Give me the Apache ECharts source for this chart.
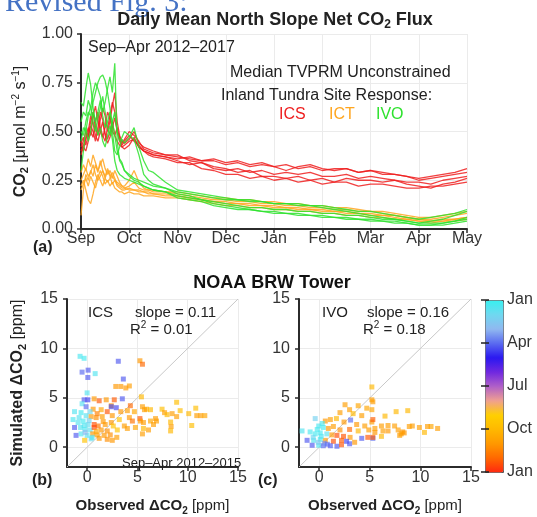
<!DOCTYPE html>
<html>
<head>
<meta charset="utf-8">
<script src="https://cdn.jsdelivr.net/npm/echarts@6/dist/echarts.min.js"></script>
<style>
  html, body { margin: 0; padding: 0; background: #fff; }
  #chart { width: 537px; height: 517px; }
</style>
</head>
<body>
<div id="chart"></div>
<script>
// month position (0 = 1 Sep, 8 = 1 May)
const monthX = [0, 0.05, 0.1, 0.15, 0.2, 0.25, 0.3, 0.35, 0.4, 0.45, 0.5, 0.55, 0.6, 0.65, 0.7, 0.75, 0.8, 0.85, 0.9,
  1.0, 1.1, 1.2, 1.3, 1.4, 1.5,
  1.75, 2, 2.25, 2.5, 2.75, 3, 3.25, 3.5, 3.75, 4, 4.25, 4.5, 4.75, 5, 5.25, 5.5, 5.75, 6, 6.25, 6.5, 6.75, 7, 7.25, 7.5, 7.75, 8];
const monthLabels = ['Sep', 'Oct', 'Nov', 'Dec', 'Jan', 'Feb', 'Mar', 'Apr', 'May'];

const icsLines = [
  [0.42,0.45,0.50,0.47,0.55,0.60,0.52,0.48,0.56,0.62,0.58,0.50,0.55,0.63,0.70,0.55,0.48,0.45,0.44, 0.46,0.50,0.44,0.42,0.41,0.40,
   0.38,0.37,0.36,0.35,0.35,0.33,0.34,0.32,0.33,0.32,0.30,0.32,0.33,0.31,0.30,0.31,0.29,0.30,0.28,0.28,0.27,0.26,0.27,0.28,0.29,0.31],
  [0.45,0.40,0.47,0.52,0.48,0.58,0.63,0.55,0.50,0.47,0.52,0.60,0.57,0.50,0.48,0.52,0.46,0.43,0.45, 0.48,0.45,0.43,0.40,0.39,0.38,
   0.37,0.36,0.37,0.35,0.36,0.34,0.35,0.33,0.34,0.32,0.33,0.31,0.32,0.30,0.31,0.31,0.29,0.30,0.29,0.28,0.27,0.25,0.26,0.27,0.28,0.29],
  [0.40,0.43,0.46,0.50,0.58,0.54,0.48,0.45,0.50,0.55,0.48,0.44,0.47,0.52,0.57,0.50,0.45,0.42,0.41, 0.43,0.47,0.42,0.40,0.39,0.38,
   0.37,0.35,0.33,0.34,0.31,0.30,0.31,0.29,0.30,0.28,0.29,0.28,0.29,0.27,0.27,0.28,0.26,0.27,0.26,0.25,0.24,0.24,0.23,0.25,0.26,0.27],
  [0.38,0.42,0.40,0.45,0.50,0.47,0.55,0.60,0.52,0.48,0.45,0.52,0.58,0.65,0.60,0.50,0.47,0.44,0.46, 0.50,0.48,0.45,0.41,0.40,0.39,
   0.38,0.38,0.35,0.34,0.32,0.31,0.29,0.30,0.27,0.27,0.26,0.27,0.25,0.26,0.24,0.26,0.25,0.25,0.24,0.25,0.23,0.22,0.21,0.23,0.24,0.26],
  [0.44,0.47,0.43,0.48,0.53,0.50,0.45,0.52,0.60,0.56,0.49,0.46,0.50,0.55,0.48,0.45,0.43,0.42,0.43, 0.45,0.46,0.42,0.40,0.38,0.37,
   0.36,0.34,0.34,0.31,0.30,0.28,0.28,0.26,0.27,0.25,0.26,0.24,0.25,0.23,0.24,0.24,0.22,0.23,0.23,0.22,0.21,0.21,0.22,0.22,0.23,0.24]
];
const ictLines = [
  [0.07,0.20,0.28,0.25,0.30,0.27,0.33,0.29,0.35,0.30,0.27,0.31,0.28,0.26,0.30,0.27,0.24,0.22,0.21, 0.22,0.24,0.21,0.20,0.20,0.19,
   0.19,0.18,0.17,0.16,0.15,0.15,0.14,0.14,0.13,0.13,0.12,0.12,0.11,0.11,0.10,0.10,0.09,0.09,0.08,0.07,0.06,0.05,0.05,0.06,0.07,0.08],
  [0.22,0.25,0.20,0.15,0.13,0.18,0.24,0.28,0.25,0.22,0.26,0.30,0.27,0.23,0.25,0.22,0.21,0.20,0.20, 0.21,0.20,0.20,0.19,0.19,0.18,
   0.18,0.17,0.16,0.15,0.14,0.13,0.13,0.12,0.12,0.11,0.11,0.10,0.10,0.09,0.09,0.08,0.08,0.07,0.07,0.06,0.05,0.04,0.04,0.05,0.05,0.06],
  [0.29,0.33,0.30,0.36,0.32,0.38,0.34,0.30,0.33,0.36,0.31,0.28,0.30,0.27,0.25,0.24,0.23,0.22,0.22, 0.25,0.30,0.24,0.21,0.20,0.20,
   0.19,0.19,0.18,0.17,0.16,0.16,0.15,0.15,0.14,0.14,0.13,0.13,0.12,0.12,0.11,0.11,0.10,0.09,0.09,0.08,0.07,0.06,0.06,0.07,0.08,0.09],
  [0.25,0.28,0.31,0.27,0.29,0.33,0.28,0.25,0.27,0.30,0.26,0.24,0.26,0.29,0.26,0.23,0.22,0.21,0.21, 0.20,0.20,0.19,0.19,0.18,0.18,
   0.17,0.17,0.16,0.15,0.14,0.14,0.13,0.13,0.12,0.12,0.11,0.11,0.10,0.10,0.09,0.09,0.08,0.08,0.07,0.07,0.06,0.05,0.04,0.04,0.05,0.06],
  [0.20,0.23,0.26,0.22,0.27,0.24,0.21,0.26,0.30,0.27,0.23,0.25,0.22,0.24,0.21,0.20,0.19,0.19,0.18, 0.19,0.18,0.18,0.17,0.17,0.17,
   0.16,0.16,0.15,0.14,0.13,0.12,0.12,0.11,0.11,0.10,0.10,0.09,0.09,0.08,0.08,0.07,0.07,0.06,0.06,0.05,0.05,0.04,0.03,0.04,0.04,0.05]
];
const ivoLines = [
  [0.55,0.60,0.58,0.66,0.62,0.70,0.75,0.72,0.68,0.60,0.65,0.72,0.78,0.70,0.85,0.45,0.35,0.33,0.30, 0.28,0.26,0.25,0.24,0.23,0.22,
   0.21,0.19,0.18,0.17,0.16,0.15,0.15,0.14,0.14,0.13,0.13,0.12,0.12,0.11,0.10,0.09,0.08,0.07,0.06,0.05,0.04,0.03,0.04,0.05,0.07,0.09],
  [0.65,0.63,0.72,0.80,0.74,0.62,0.55,0.60,0.66,0.58,0.52,0.55,0.60,0.55,0.48,0.40,0.36,0.34,0.30, 0.27,0.25,0.24,0.22,0.21,0.20,
   0.19,0.17,0.16,0.15,0.13,0.12,0.11,0.10,0.09,0.09,0.08,0.08,0.07,0.07,0.06,0.06,0.05,0.05,0.04,0.04,0.03,0.02,0.02,0.03,0.04,0.05],
  [0.50,0.48,0.55,0.60,0.58,0.65,0.70,0.75,0.78,0.79,0.76,0.70,0.62,0.50,0.40,0.38,0.42,0.46,0.44, 0.47,0.52,0.42,0.35,0.30,0.29,
   0.24,0.20,0.19,0.18,0.17,0.16,0.15,0.15,0.14,0.13,0.13,0.13,0.12,0.12,0.11,0.10,0.09,0.09,0.08,0.07,0.06,0.05,0.06,0.07,0.08,0.10],
  [0.45,0.52,0.50,0.58,0.63,0.55,0.50,0.57,0.62,0.68,0.60,0.52,0.48,0.55,0.60,0.50,0.45,0.47,0.50, 0.48,0.46,0.38,0.28,0.25,0.23,
   0.21,0.18,0.17,0.15,0.14,0.13,0.12,0.11,0.11,0.10,0.10,0.09,0.09,0.08,0.08,0.07,0.07,0.06,0.05,0.05,0.04,0.03,0.03,0.03,0.04,0.06],
  [0.30,0.40,0.52,0.45,0.50,0.60,0.55,0.48,0.52,0.45,0.42,0.48,0.53,0.46,0.35,0.30,0.28,0.27,0.26, 0.25,0.24,0.23,0.22,0.21,0.20,
   0.19,0.16,0.15,0.14,0.12,0.11,0.10,0.10,0.09,0.08,0.08,0.07,0.07,0.06,0.06,0.05,0.05,0.04,0.04,0.03,0.03,0.02,0.02,0.02,0.03,0.04]
];

// scatter: [observed, simulated, month (0 = Jan at top of bar, 12 = Jan at bottom)]
const icsScatter = [
  [-0.3,9.0,0.3],[-0.7,9.2,0.4],[-0.5,7.6,3.0],[0.1,7.8,3.2],[3.1,8.7,3.2],[5.25,8.75,10.0],[5.5,8.4,11.0],[0.8,7.45,0.5],
  [0.07,7.06,3.2],[3.6,6.9,3.2],[2.85,6.15,10.0],[3.35,6.15,10.0],[3.85,6.0,10.0],[4.2,6.2,9.8],[0,5.5,0.5],[-0.3,4.8,3.2],
  [0.07,4.8,3.5],[0.7,4.9,10.0],[1.2,4.7,11.3],[1.9,4.8,10.0],[2.4,4.2,10.0],[2.7,4.8,11.2],[3.5,4.9,3.2],[5.4,5.1,9.0],
  [4.3,4.2,11.0],[5.5,4.1,9.8],[-0.5,4.4,0.6],[-0.1,4.1,3.0],[2.4,4.1,3.4],[2.9,4.0,3.4],[0.6,3.85,10.0],[1.4,3.8,9.6],
  [2.0,3.6,11.3],[3.35,3.6,10.0],[4.0,3.7,9.8],[4.7,3.6,9.6],[5.9,3.85,9.4],[-1.25,3.6,0.5],[-0.6,3.5,0.3],[-0.1,3.2,0.6],
  [0.4,3.1,10.0],[0.9,3.0,10.2],[1.5,3.1,9.8],[2.5,3.2,10.0],[3.2,2.8,8.6],[4.2,3.0,10.0],[4.5,2.65,10.8],[5.25,2.9,11.3],
  [5.6,2.5,9.8],[-1.4,2.8,0.4],[-0.9,2.5,0.6],[-0.4,2.65,0.3],[0.1,2.3,0.8],[0.7,2.3,11.4],[1.1,2.15,10.8],[1.8,2.3,10.0],
  [2.4,2.5,10.0],[2.6,2.15,8.6],[3.7,2.15,9.8],[-1.25,2.0,3.2],[-0.65,2.0,0.5],[-0.2,1.8,0.4],[0.3,1.75,0.7],[0.7,2.0,11.5],
  [1.4,1.75,10.0],[2.0,1.65,10.2],[3.0,1.75,8.6],[4.0,1.9,9.8],[4.8,2.0,9.6],[-0.6,1.35,0.5],[0,1.2,0.6],[0.55,1.35,10.0],
  [1.0,1.25,9.8],[1.7,1.2,10.0],[2.3,1.25,10.2],[-1.1,1.2,3.2],[-0.25,0.7,8.6],[0.4,0.85,0.8],[1.2,0.9,10.0],[2.0,0.8,10.2],
  [2.5,0.7,10.0],[2.95,1.0,9.8],[-0.3,2.2,0.5],[0.2,2.7,1.2],[-0.8,3.0,0.6],[0.3,3.6,1.0],[-0.2,1.5,2.0],[0.5,1.0,0.5],
  [1.0,3.4,10.5],[1.6,2.6,10.0],[0.9,1.6,9.6],
  [8.9,4.55,8.8],[10.8,3.95,8.8],[5.7,3.8,9.8],[6.3,3.8,9.0],[7.45,3.85,8.8],[7.7,3.5,9.8],[7.95,3.3,9.0],[8.45,3.4,9.8],
  [9.25,3.7,8.8],[10.1,3.4,9.0],[10.9,3.2,9.8],[11.3,3.2,9.8],[11.7,3.2,9.6],[8.9,3.1,9.8],[6.8,2.9,9.8],[6.9,2.65,9.8],
  [6.3,2.65,9.6],[8.3,2.55,9.0],[10.4,2.2,8.8],[6.6,2.3,9.8],[5.6,1.9,9.0],[6.1,1.75,9.8],[8.35,2.1,9.8],[8.3,1.65,9.0],
  [5.5,1.35,9.8],[5.3,2.65,10.0]
];
const ivoScatter = [
  [5.2,6.1,9.0],[5.3,4.6,9.8],[2.55,4.3,9.8],[3.85,4.2,9.6],[3.0,3.8,9.8],[4.7,3.95,9.6],[2.05,3.5,9.8],[3.35,3.4,9.0],
  [4.2,3.2,9.8],[-0.4,2.9,1.2],[0.6,2.65,10.0],[1.1,2.8,9.8],[1.7,2.9,9.0],[3.1,2.75,3.0],[2.45,2.55,10.0],[5.2,2.55,9.8],
  [3.7,2.3,10.0],[4.5,2.15,9.8],[-0.05,2.15,0.4],[0.4,2.0,0.3],[0.9,1.9,10.0],[1.4,2.1,9.8],[2.05,1.75,10.2],[3.0,1.8,11.0],
  [3.85,1.65,9.0],[4.9,1.75,9.8],[5.5,1.5,10.0],[-1.7,1.65,0.5],[-0.9,1.55,0.4],[-0.4,1.35,0.3],[0.1,1.45,0.3],[0.75,1.35,0.6],
  [1.25,1.25,10.0],[1.75,1.2,11.4],[2.4,1.1,11.3],[3.05,1.0,10.0],[4.2,0.9,3.2],[4.8,1.0,11.3],[5.3,0.9,3.0],[-1.2,0.7,3.2],
  [-0.55,0.7,0.5],[0.1,0.8,0.3],[0.6,0.7,10.0],[1.4,0.6,11.4],[2.2,0.7,11.2],[2.7,0.6,3.4],[3.5,0.5,10.0],[-0.7,0.2,3.2],
  [-0.05,0.2,0.4],[0.4,0.15,3.0],[1.1,0.15,3.2],[1.75,0.1,3.2],[2.2,0.25,11.3],[3.0,0.35,3.2],
  [-0.2,1.8,0.3],[0.2,1.1,0.5],[-0.6,1.0,1.0],[0.3,2.4,0.4],[-0.1,0.5,1.5],[0.5,0.4,2.5],[0.8,0.3,3.0],
  [5.2,4.8,9.8],[7.6,3.6,9.0],[8.75,3.7,9.0],[6.5,3.15,9.0],[5.3,2.8,11.2],[5.2,3.8,9.6],[6.15,2.15,9.8],[6.8,2.2,9.8],
  [7.45,2.15,9.8],[8.9,2.1,9.8],[9.2,2.15,9.8],[9.9,2.0,9.8],[10.7,2.1,9.8],[11.05,2.1,9.6],[11.7,1.9,9.8],[5.5,1.9,9.8],
  [6.3,1.65,9.8],[6.8,1.65,10.0],[7.8,1.75,9.8],[8.25,1.55,10.0],[8.1,1.35,9.8],[8.4,1.45,10.0],[10.4,1.5,9.0],[6.15,1.1,9.0],
  [5.3,1.0,11.2],[7.95,1.2,9.8]
];
const oneToOne = [-2, 15];
const colorbarLabels = ['Jan', 'Apr', 'Jul', 'Oct', 'Jan'];
const monthColors = ['#38f0f0', '#70d8f0', '#90b8f0', '#5a6af0', '#2a18f0', '#7028e0', '#b060c8',
  '#f0a090', '#ffd000', '#ffb800', '#ff9800', '#ff6800', '#ff2810'];

const FONT = '"Liberation Sans", Arial, Helvetica, sans-serif';
const AXIS_DARK = '#2b2b2b';
const GRID_LINE = '#ebebeb';

const chart = echarts.init(document.getElementById('chart'));

function txt(x, y, text, extra) {
  return {
    type: 'text', x: x, y: y, z: 100, silent: true,
    style: Object.assign({
      text: text, fontSize: 16, fontFamily: FONT, fill: '#222',
      align: 'left', verticalAlign: 'middle', textAlign: 'left', textVerticalAlign: 'middle'
    }, extra || {})
  };
}

function richFor(size) {
  return {
    n: { fontSize: size, lineHeight: 20, fontFamily: FONT, color: '#222' },
    b: { fontWeight: 'bold', fontSize: size, lineHeight: 20, fontFamily: FONT, color: '#222' },
    bsub: { fontWeight: 'bold', fontSize: Math.round(size * 0.68), lineHeight: 10, verticalAlign: 'bottom', fontFamily: FONT, color: '#222' },
    sup: { fontSize: Math.round(size * 0.62), lineHeight: 9, verticalAlign: 'top', fontFamily: FONT, color: '#222' }
  };
}

function lineSeries(lines, color) {
  return lines.map((vals) => ({
    type: 'line', xAxisIndex: 0, yAxisIndex: 0, symbol: 'none', silent: true,
    data: monthX.map((x, i) => [x, vals[i]]),
    lineStyle: { color: color, width: 1.3, opacity: 0.85 }
  }));
}

function axisLineStyle() {
  return { show: true, onZero: false, lineStyle: { color: AXIS_DARK, width: 2 } };
}

function scatterAxes(idx, showYName) {
  const x = {
    type: 'value', gridIndex: idx, min: -2, max: 15, splitNumber: 4,
    axisLine: axisLineStyle(),
    axisTick: { show: true, length: 4, lineStyle: { color: AXIS_DARK, width: 1.5 } },
    axisLabel: { showMinLabel: false, margin: 3, fontSize: 16, color: '#333', fontFamily: FONT },
    splitLine: { show: true, lineStyle: { color: GRID_LINE } },
    name: '{b|Observed ΔCO}{bsub|2}{n| [ppm]}', nameLocation: 'middle', nameGap: 29,
    nameTextStyle: { rich: richFor(15) }
  };
  const y = {
    type: 'value', gridIndex: idx, min: -2, max: 15, splitNumber: 4,
    axisLine: axisLineStyle(),
    axisTick: { show: true, length: 4, lineStyle: { color: AXIS_DARK, width: 1.5 } },
    axisLabel: { showMinLabel: false, margin: 9, fontSize: 16, color: '#333', fontFamily: FONT },
    splitLine: { show: true, lineStyle: { color: GRID_LINE } }
  };
  if (showYName) {
    y.name = '{b|Simulated ΔCO}{bsub|2}{n| [ppm]}';
    y.nameLocation = 'middle';
    y.nameGap = 39;
    y.nameTextStyle = { rich: richFor(16) };
  }
  return [x, y];
}

const bAxes = scatterAxes(1, true);
const cAxes = scatterAxes(2, false);

function scatterSeries(data, idx) {
  return [
    {
      type: 'line', xAxisIndex: idx, yAxisIndex: idx, symbol: 'none', silent: true,
      data: [[oneToOne[0], oneToOne[0]], [oneToOne[1], oneToOne[1]]],
      lineStyle: { color: '#c8c8c8', width: 1 }, z: 1
    },
    {
      type: 'scatter', xAxisIndex: idx, yAxisIndex: idx, symbol: 'rect', symbolSize: 5,
      data: data, itemStyle: { opacity: 0.66 }, z: 2
    }
  ];
}

const series = [].concat(
  lineSeries(icsLines, '#ee1f1f'),
  lineSeries(ictLines, '#ffa620'),
  lineSeries(ivoLines, '#2ee22e'),
  scatterSeries(icsScatter, 1),
  scatterSeries(ivoScatter, 2)
);
const scatterIdx = [series.length - 3, series.length - 1];
const smallRich = { n: { fontSize: 15, lineHeight: 20, fontFamily: FONT, color: '#222' }, sup: { fontSize: 10, lineHeight: 9, verticalAlign: 'top', fontFamily: FONT, color: '#222' } };

chart.setOption({
  animation: false,
  backgroundColor: '#fff',
  grid: [
    { left: 81, top: 34, width: 386, height: 195 },
    { left: 67, top: 299, width: 171, height: 173 },
    { left: 299, top: 299, width: 172, height: 173 },
    { left: 485, top: 300, width: 18, height: 172 }
  ],
  xAxis: [
    {
      type: 'value', gridIndex: 0, min: 0, max: 8, interval: 1,
      axisLine: axisLineStyle(),
      axisTick: { show: true, length: 4, lineStyle: { color: AXIS_DARK, width: 1.5 } },
      axisLabel: { margin: 2, fontSize: 16, color: '#333', fontFamily: FONT, formatter: (v) => monthLabels[v] },
      splitLine: { show: true, lineStyle: { color: GRID_LINE } }
    },
    bAxes[0], cAxes[0],
    { type: 'value', gridIndex: 3, show: false, min: 0, max: 1 }
  ],
  yAxis: [
    {
      type: 'value', gridIndex: 0, min: 0, max: 1, interval: 0.25,
      axisLine: axisLineStyle(),
      axisTick: { show: true, length: 4, lineStyle: { color: AXIS_DARK, width: 1.5 } },
      axisLabel: { margin: 8, fontSize: 16, color: '#333', fontFamily: FONT, formatter: (v) => v.toFixed(2) },
      splitLine: { show: true, lineStyle: { color: GRID_LINE } },
      name: '{b|CO}{bsub|2}{n| [μmol m}{sup|−2}{n| s}{sup|−1}{n|]}', nameLocation: 'middle', nameGap: 44,
      nameTextStyle: { rich: richFor(16) }
    },
    bAxes[1], cAxes[1],
    {
      type: 'value', gridIndex: 3, min: 0, max: 12, interval: 3, inverse: true, position: 'right', z: 10,
      axisLine: { show: false },
      axisTick: { show: true, inside: true, length: 4, lineStyle: { color: '#222', width: 1.5 } },
      axisLabel: { margin: 4, fontSize: 16, color: '#333', fontFamily: FONT, formatter: (v) => colorbarLabels[v / 3] },
      splitLine: { show: false }
    },
    {
      type: 'value', gridIndex: 3, min: 0, max: 12, interval: 3, inverse: true, position: 'left', z: 10,
      axisLine: { show: false },
      axisTick: { show: true, inside: true, length: 4, lineStyle: { color: '#222', width: 1.5 } },
      axisLabel: { show: false },
      splitLine: { show: false }
    }
  ],
  visualMap: {
    type: 'continuous', min: 0, max: 12, dimension: 2, seriesIndex: scatterIdx,
    inverse: true, calculable: false, realtime: false, hoverLink: false,
    left: 485, top: 300, itemWidth: 18, itemHeight: 172, padding: 0,
    text: null, showLabel: false,
    borderColor: '#555', borderWidth: 1,
    inRange: { color: monthColors }
  },
  graphic: [
    txt(5, 3, 'Revised Fig. 3:', { fontSize: 30, fontFamily: '"Liberation Serif", "Times New Roman", serif', fill: '#4472c4', z: 90 }),
    txt(275, 20, '{t|Daily Mean North Slope Net CO}{ts|2}{t| Flux}', {
      align: 'center', textAlign: 'center',
      rich: {
        t: { fontSize: 18, fontWeight: 'bold', lineHeight: 22, fontFamily: FONT, color: '#111' },
        ts: { fontSize: 12, fontWeight: 'bold', lineHeight: 11, verticalAlign: 'bottom', fontFamily: FONT, color: '#111' }
      }
    }),
    txt(88, 48, 'Sep–Apr 2012–2017'),
    txt(230, 73, 'Median TVPRM Unconstrained'),
    txt(221, 96, 'Inland Tundra Site Response:'),
    txt(279, 115, 'ICS', { fill: '#ee1f1f' }),
    txt(329, 115, 'ICT', { fill: '#ffa620' }),
    txt(376, 115, 'IVO', { fill: '#2ee22e' }),
    txt(33, 248, '(a)', { fontWeight: 'bold' }),
    txt(272, 283, 'NOAA BRW Tower', { align: 'center', textAlign: 'center', fontSize: 18, fontWeight: 'bold', fill: '#111' }),
    txt(88, 313, 'ICS', { fontSize: 15 }),
    txt(135, 313, 'slope = 0.11', { fontSize: 15 }),
    txt(130, 330, '{n|R}{sup|2}{n| = 0.01}', { rich: smallRich }),
    txt(122, 463, 'Sep–Apr 2012–2015', { fontSize: 13 }),
    txt(32, 481, '(b)', { fontWeight: 'bold' }),
    txt(322, 313, 'IVO', { fontSize: 15 }),
    txt(367, 313, 'slope = 0.16', { fontSize: 15 }),
    txt(363, 330, '{n|R}{sup|2}{n| = 0.18}', { rich: smallRich }),
    txt(258, 481, '(c)', { fontWeight: 'bold' })
  ],
  series: series
});
</script>
</body>
</html>
